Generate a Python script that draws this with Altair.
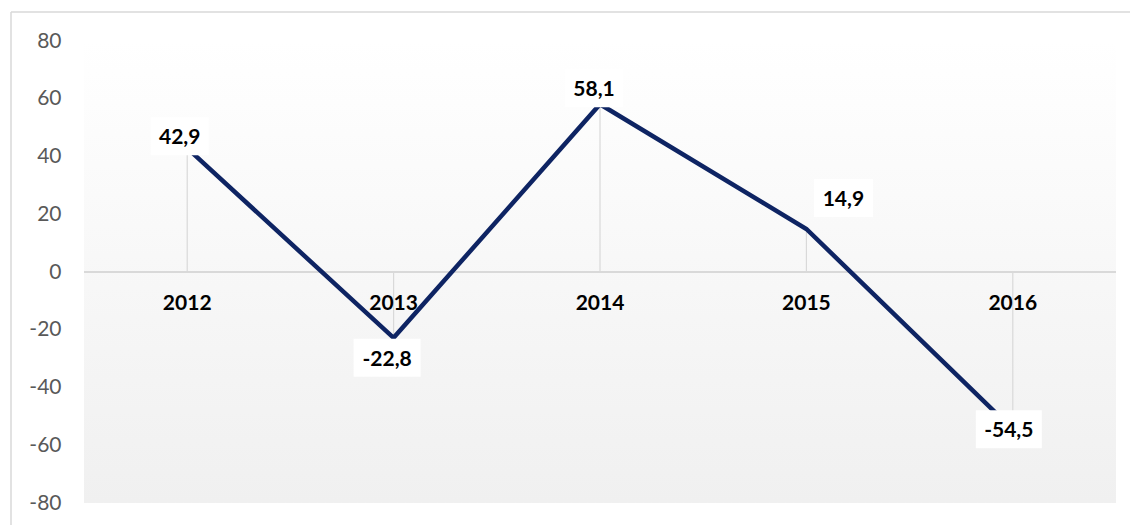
import altair as alt
import pandas as pd

# ---- data ----
years = ["2012", "2013", "2014", "2015", "2016"]
values = [42.9, -22.8, 58.1, 14.9, -54.5]
labels = ["42,9", "-22,8", "58,1", "14,9", "-54,5"]
y_ticks = [-80, -60, -40, -20, 0, 20, 40, 60, 80]

# ---- label placement / styling (pixels) ----
label_dx = [-7.5, -6.5, -6, 37, -4]
label_dy = [-10, 22, -14, -29, 2]
box_w = [58, 67, 58, 59, 66]
BOX_H = 38

W, H = 1032, 462
FONT = "Lato"
FS = 21
LINE_COLOR = "#0e2463"
GRID = "#d9d9d9"

df = pd.DataFrame({"year": years, "value": values, "label": labels})

x = alt.X("year:O", scale=alt.Scale(type="point", padding=0.5), axis=None)
y = alt.Y(
    "value:Q",
    scale=alt.Scale(domain=[-80, 80], nice=False, zero=False),
    axis=alt.Axis(values=y_ticks, domain=False, ticks=False, grid=False,
                  labelFont=FONT, labelFontSize=FS, labelColor="#595959",
                  labelPadding=23, title=None,
                  labelExpr="'' + datum.value"),
)

one = pd.DataFrame({"a": [0]})

# outer frame: top and left edges (the others fall outside the picture)
frame_top = alt.Chart(one).mark_rule(color=GRID, strokeWidth=1.5).encode(
    x=alt.value(-73), x2=alt.value(W + 14), y=alt.value(-29)
)
frame_left = alt.Chart(one).mark_rule(color=GRID, strokeWidth=1.5).encode(
    x=alt.value(-73), y=alt.value(-29), y2=alt.value(H + 22)
)

bg = alt.Chart(one).mark_rect(
    color=alt.Gradient(
        gradient="linear",
        stops=[alt.GradientStop(offset=0, color="#ffffff"),
               alt.GradientStop(offset=1, color="#f0f0f0")],
        x1=0, x2=0, y1=0, y2=1,
    )
).encode(x=alt.value(0), x2=alt.value(W), y=alt.value(0), y2=alt.value(H))

base = alt.Chart(df)

zero = base.mark_rule(color=GRID, strokeWidth=1.5).encode(
    y=alt.Y(datum=0, scale=alt.Scale(domain=[-80, 80], nice=False, zero=False)),
    x=alt.value(0), x2=alt.value(W),
)

drops = base.mark_rule(color=GRID, strokeWidth=1.2).encode(
    x=x, y=y, y2=alt.Y2(datum=0)
)

line = base.mark_line(color=LINE_COLOR, strokeWidth=4.5, strokeJoin="miter").encode(x=x, y=y)

cats = base.mark_text(font=FONT, fontWeight="bold", fontSize=FS, color="black",
                      dy=32, baseline="middle").encode(
    x=x, y=alt.Y(datum=0), text="year:O"
)

layers = [frame_top, frame_left, bg, zero, drops, line, cats]

for i, lab in enumerate(labels):
    sub = base.transform_filter(alt.datum.label == lab)
    w = box_w[i]
    r = (BOX_H / 2) / (w / 2)
    path = f"M-1,-{r:.4f} L1,-{r:.4f} L1,{r:.4f} L-1,{r:.4f} Z"
    box = sub.mark_point(shape=path, filled=True, fill="white", opacity=1,
                         strokeWidth=0, size=w * w,
                         xOffset=label_dx[i], yOffset=label_dy[i] - 2).encode(x=x, y=y)
    txt = sub.mark_text(font=FONT, fontWeight="bold", fontSize=FS, color="black",
                        dx=label_dx[i], dy=label_dy[i], baseline="middle").encode(
        x=x, y=y, text="label:N")
    layers += [box, txt]

chart = alt.layer(*layers).properties(
    width=W, height=H, autosize="none",
    padding={"left": 84, "top": 41, "right": 14, "bottom": 22},
    background="white",
).configure_view(stroke=None)

chart.save("out.html", embed_options={"renderer": "svg", "actions": False})
